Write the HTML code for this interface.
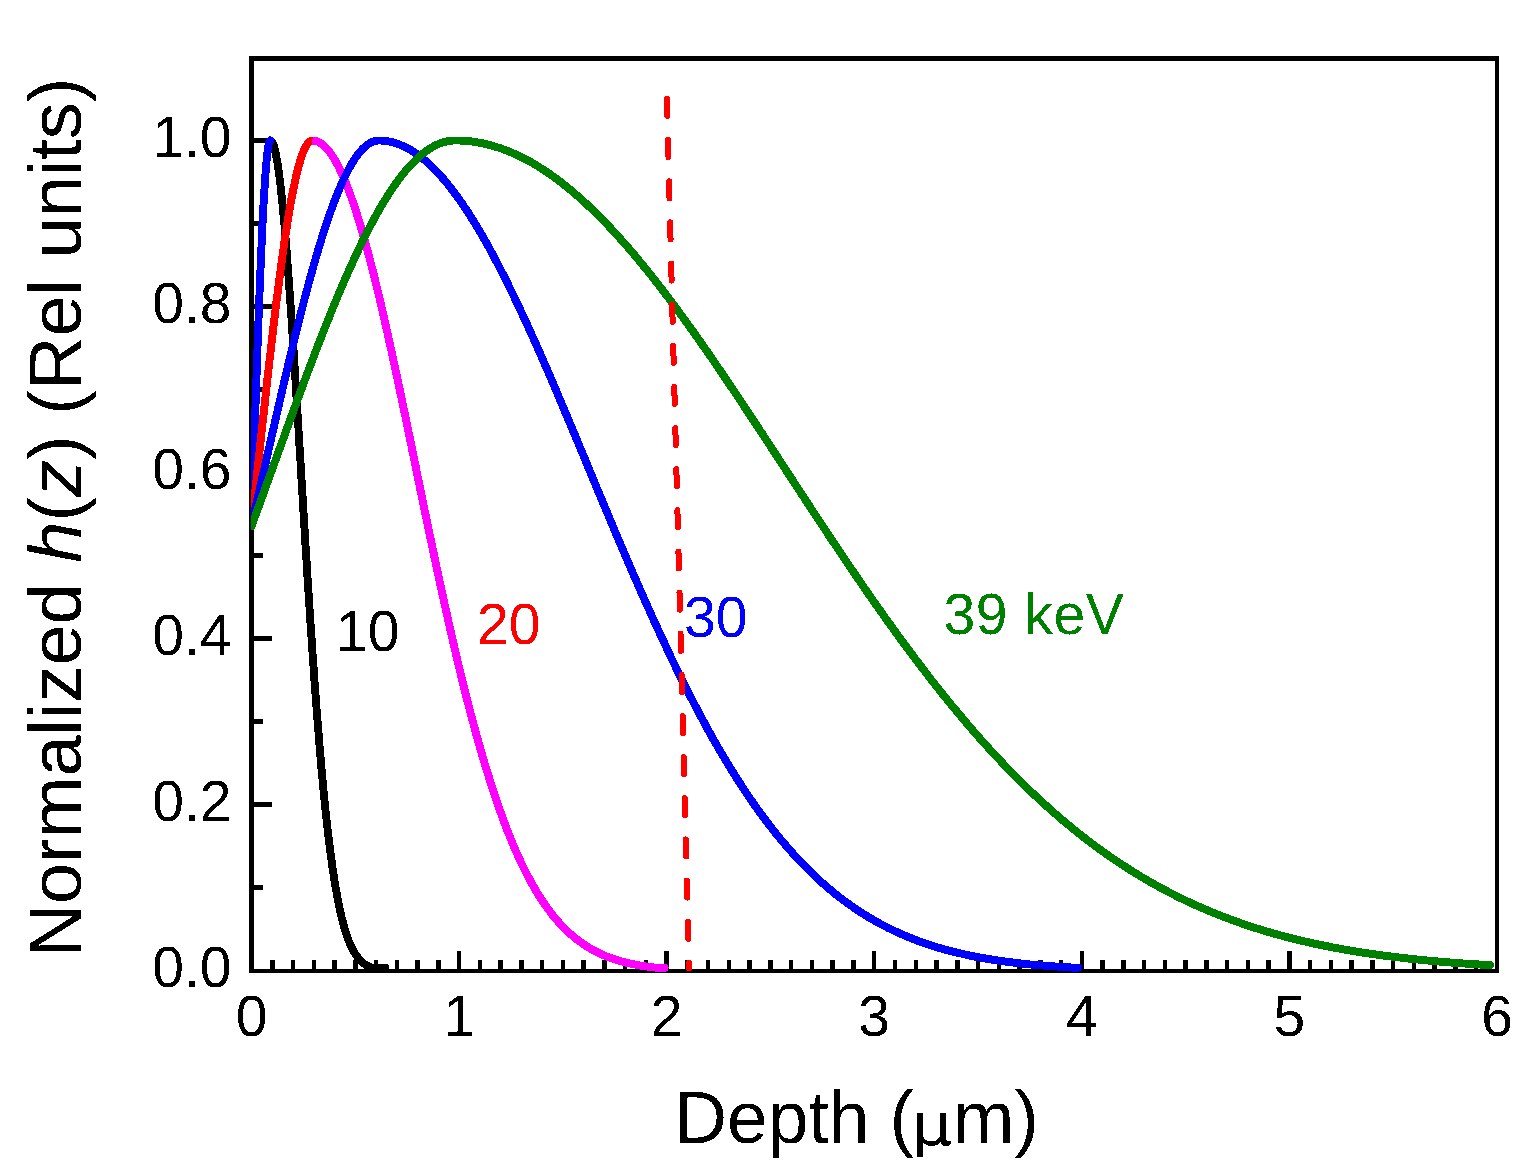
<!DOCTYPE html>
<html><head><meta charset="utf-8"><title>Normalized h(z) vs Depth</title>
<style>html,body{margin:0;padding:0;background:#fff;}body{width:1533px;height:1172px;overflow:hidden;}svg{display:block;}</style>
</head><body>
<svg width="1533" height="1172" viewBox="0 0 1533 1172">
<rect width="1533" height="1172" fill="#fff"/>
<g fill="#000" shape-rendering="crispEdges">
<rect x="249" y="56" width="5" height="917"/>
<rect x="1495" y="56" width="4" height="917"/>
<rect x="249" y="56" width="1250" height="5"/>
<rect x="249" y="969" width="1250" height="4"/>
</g>
<path d="M272.26 969 V960 M293.02 969 V960 M313.77 969 V960 M334.53 969 V960 M355.29 969 V960 M376.05 969 V960 M396.81 969 V960 M417.56 969 V960 M438.32 969 V960 M459.08 969 V951 M479.84 969 V960 M500.60 969 V960 M521.35 969 V960 M542.11 969 V960 M562.87 969 V960 M583.63 969 V960 M604.39 969 V960 M625.14 969 V960 M645.90 969 V960 M666.66 969 V951 M687.42 969 V960 M708.18 969 V960 M728.93 969 V960 M749.69 969 V960 M770.45 969 V960 M791.21 969 V960 M811.97 969 V960 M832.72 969 V960 M853.48 969 V960 M874.24 969 V951 M895.00 969 V960 M915.76 969 V960 M936.51 969 V960 M957.27 969 V960 M978.03 969 V960 M998.79 969 V960 M1019.55 969 V960 M1040.30 969 V960 M1061.06 969 V960 M1081.82 969 V951 M1102.58 969 V960 M1123.34 969 V960 M1144.09 969 V960 M1164.85 969 V960 M1185.61 969 V960 M1206.37 969 V960 M1227.13 969 V960 M1247.88 969 V960 M1268.64 969 V960 M1289.40 969 V951 M1310.16 969 V960 M1330.92 969 V960 M1351.67 969 V960 M1372.43 969 V960 M1393.19 969 V960 M1413.95 969 V960 M1434.71 969 V960 M1455.46 969 V960 M1476.22 969 V960" stroke="#000" stroke-width="4.5" fill="none" shape-rendering="crispEdges"/>
<path d="M254 887.95 H263 M254 804.90 H272 M254 721.85 H263 M254 638.80 H272 M254 555.75 H263 M254 472.70 H272 M254 389.65 H263 M254 306.60 H272 M254 223.55 H263 M254 140.50 H272" stroke="#000" stroke-width="5" fill="none" shape-rendering="crispEdges"/>
<defs><clipPath id="c"><rect x="250.8" y="0" width="1248.2" height="1172"/></clipPath></defs>
<g clip-path="url(#c)" fill="none" stroke-width="7.9" stroke-linejoin="round" stroke-linecap="round" shape-rendering="crispEdges">
<path stroke="#000" d="M270.3 140.5 L272.6 142.9 L273.8 145.8 L274.7 149.1 L275.5 152.4 L276.2 156.1 L276.8 159.2 L277.4 162.6 L278.0 166.3 L278.5 170.3 L279.1 174.5 L279.7 178.9 L280.1 182.1 L280.5 185.3 L280.8 188.6 L281.2 192.1 L281.6 195.6 L282.0 199.3 L282.4 203.1 L282.8 207.0 L283.1 210.9 L283.5 215.0 L283.9 219.2 L284.3 223.4 L284.7 227.8 L285.0 232.2 L285.4 236.8 L285.8 241.4 L286.2 246.1 L286.6 250.9 L287.0 255.8 L287.3 260.7 L287.7 265.7 L288.1 270.8 L288.5 276.0 L288.9 281.3 L289.3 286.6 L289.6 292.0 L290.0 297.4 L290.4 302.9 L290.8 308.5 L291.2 314.1 L291.6 319.8 L291.9 325.5 L292.3 331.3 L292.7 337.1 L293.1 343.0 L293.5 348.9 L293.9 354.9 L294.0 357.9 L294.2 360.9 L294.4 363.9 L294.6 366.9 L294.8 370.0 L295.0 373.0 L295.2 376.1 L295.4 379.1 L295.6 382.2 L295.8 385.3 L296.0 388.3 L296.2 391.4 L296.3 394.5 L296.5 397.6 L296.7 400.7 L296.9 403.8 L297.1 406.9 L297.3 410.1 L297.5 413.2 L297.7 416.3 L297.9 419.5 L298.1 422.6 L298.3 425.7 L298.5 428.9 L298.6 432.0 L298.8 435.2 L299.0 438.3 L299.2 441.5 L299.4 444.6 L299.6 447.8 L299.8 451.0 L300.0 454.1 L300.2 457.3 L300.4 460.5 L300.6 463.6 L300.7 466.8 L300.9 469.9 L301.1 473.1 L301.3 476.3 L301.5 479.4 L301.7 482.6 L301.9 485.8 L302.1 488.9 L302.3 492.1 L302.5 495.2 L302.7 498.4 L302.9 501.5 L303.0 504.7 L303.2 507.8 L303.4 511.0 L303.6 514.1 L303.8 517.3 L304.0 520.4 L304.2 523.5 L304.4 526.6 L304.6 529.8 L304.8 532.9 L305.0 536.0 L305.2 539.1 L305.3 542.2 L305.5 545.3 L305.7 548.4 L305.9 551.5 L306.1 554.5 L306.3 557.6 L306.5 560.7 L306.7 563.7 L306.9 566.8 L307.1 569.8 L307.3 572.9 L307.4 575.9 L307.6 578.9 L307.8 581.9 L308.0 584.9 L308.2 587.9 L308.6 593.9 L309.0 599.9 L309.4 605.8 L309.7 611.6 L310.1 617.4 L310.5 623.2 L310.9 629.0 L311.3 634.7 L311.7 640.3 L312.0 646.0 L312.4 651.5 L312.8 657.1 L313.2 662.5 L313.6 668.0 L314.0 673.3 L314.3 678.7 L314.7 684.0 L315.1 689.2 L315.5 694.4 L315.9 699.5 L316.3 704.6 L316.6 709.6 L317.0 714.6 L317.4 719.5 L317.8 724.3 L318.2 729.1 L318.6 733.9 L318.9 738.6 L319.3 743.2 L319.7 747.8 L320.1 752.3 L320.5 756.8 L320.9 761.2 L321.2 765.5 L321.6 769.8 L322.0 774.0 L322.4 778.2 L322.8 782.3 L323.1 786.4 L323.5 790.4 L323.9 794.3 L324.3 798.2 L324.7 802.0 L325.1 805.7 L325.4 809.5 L325.8 813.1 L326.2 816.7 L326.6 820.2 L327.0 823.7 L327.4 827.1 L327.7 830.5 L328.1 833.8 L328.5 837.0 L328.9 840.2 L329.3 843.3 L329.7 846.4 L330.0 849.4 L330.6 853.9 L331.2 858.2 L331.8 862.4 L332.3 866.4 L332.9 870.4 L333.5 874.2 L334.1 877.9 L334.6 881.6 L335.2 885.1 L335.8 888.5 L336.4 891.7 L336.9 894.9 L337.5 898.0 L338.1 901.0 L338.8 904.8 L339.6 908.5 L340.4 912.0 L341.1 915.3 L341.9 918.5 L342.7 921.5 L343.6 925.1 L344.6 928.5 L345.5 931.6 L346.5 934.6 L347.7 937.9 L348.8 940.9 L350.0 943.7 L351.3 946.7 L352.6 949.4 L354.2 952.2 L355.9 954.9 L357.8 957.5 L359.9 960.0 L362.2 962.2 L364.7 964.1 L367.4 965.8 L370.2 967.2 L373.3 967.7 L376.4 967.7 L379.4 967.7 L382.5 967.7 L385.2 967.7"/>
<path stroke="#00f" d="M251.5 525.0 L251.6 521.3 L251.8 517.6 L251.9 513.9 L252.0 510.2 L252.1 506.5 L252.3 502.7 L252.4 499.0 L252.5 495.3 L252.6 491.5 L252.8 487.8 L252.9 484.1 L253.0 480.3 L253.1 476.6 L253.3 472.8 L253.4 469.1 L253.5 465.4 L253.6 461.6 L253.8 457.9 L253.9 454.1 L254.0 450.4 L254.1 446.6 L254.3 442.9 L254.4 439.2 L254.5 435.4 L254.6 431.7 L254.8 428.0 L254.9 424.3 L255.0 420.6 L255.1 416.8 L255.3 413.1 L255.4 409.4 L255.5 405.8 L255.6 402.1 L255.8 398.4 L255.9 394.7 L256.0 391.1 L256.1 387.4 L256.3 383.8 L256.4 380.2 L256.5 376.5 L256.6 372.9 L256.8 369.3 L256.9 365.7 L257.0 362.2 L257.1 358.6 L257.3 355.1 L257.4 351.5 L257.5 348.0 L257.6 344.5 L257.8 341.0 L257.9 337.5 L258.0 334.1 L258.1 330.6 L258.3 327.2 L258.4 323.8 L258.5 320.4 L258.6 317.1 L258.8 313.7 L258.9 310.4 L259.0 307.1 L259.1 303.8 L259.3 300.5 L259.4 297.2 L259.5 294.0 L259.6 290.8 L259.8 287.6 L259.9 284.5 L260.0 281.3 L260.2 278.2 L260.3 275.1 L260.4 272.1 L260.5 269.0 L260.7 266.0 L260.8 262.3 L261.0 258.6 L261.1 254.9 L261.3 251.3 L261.4 247.8 L261.6 244.3 L261.7 240.8 L261.9 237.4 L262.1 234.0 L262.2 230.7 L262.4 227.4 L262.5 224.2 L262.7 221.0 L262.8 217.9 L263.0 214.8 L263.2 211.8 L263.3 208.3 L263.5 204.8 L263.7 201.4 L263.9 198.1 L264.1 194.9 L264.3 191.7 L264.5 188.7 L264.7 185.2 L264.9 181.9 L265.1 178.6 L265.4 175.5 L265.6 172.2 L265.9 168.9 L266.1 165.9 L266.4 162.6 L266.7 159.6 L267.0 156.5 L267.3 153.3 L267.7 150.3 L268.1 147.3 L268.7 144.2 L269.6 141.3 L270.3 140.5"/>
<path stroke="#f00" d="M251.5 525.1 L251.9 521.4 L252.3 517.7 L252.7 514.0 L253.1 510.3 L253.5 506.6 L253.9 502.9 L254.3 499.1 L254.7 495.4 L255.1 491.7 L255.6 487.9 L256.0 484.2 L256.4 480.4 L256.8 476.7 L257.2 473.0 L257.6 469.2 L258.0 465.5 L258.4 461.7 L258.8 458.0 L259.2 454.2 L259.6 450.5 L260.0 446.8 L260.4 443.0 L260.8 439.3 L261.2 435.5 L261.6 431.8 L262.0 428.1 L262.4 424.4 L262.9 420.7 L263.3 416.9 L263.7 413.2 L264.1 409.5 L264.5 405.9 L264.9 402.2 L265.3 398.5 L265.7 394.8 L266.1 391.2 L266.5 387.5 L266.9 383.9 L267.3 380.2 L267.7 376.6 L268.1 373.0 L268.5 369.4 L268.9 365.8 L269.3 362.3 L269.7 358.7 L270.2 355.1 L270.6 351.6 L271.0 348.1 L271.4 344.6 L271.8 341.1 L272.2 337.6 L272.6 334.2 L273.0 330.7 L273.4 327.3 L273.8 323.9 L274.2 320.5 L274.6 317.1 L275.0 313.8 L275.4 310.4 L275.8 307.1 L276.2 303.8 L276.6 300.6 L277.0 297.3 L277.5 294.1 L277.9 290.9 L278.3 287.7 L278.7 284.5 L279.1 281.4 L279.5 278.3 L279.9 275.2 L280.3 272.1 L280.7 269.1 L281.1 266.1 L281.5 263.1 L282.0 259.4 L282.5 255.7 L283.0 252.1 L283.5 248.5 L284.0 245.0 L284.5 241.5 L285.1 238.1 L285.6 234.7 L286.1 231.4 L286.6 228.1 L287.1 224.9 L287.6 221.7 L288.1 218.6 L288.6 215.5 L289.1 212.4 L289.6 209.5 L290.2 206.0 L290.8 202.6 L291.4 199.2 L292.0 196.0 L292.7 192.8 L293.3 189.7 L293.9 186.7 L294.6 183.3 L295.3 180.0 L296.0 176.9 L296.7 173.8 L297.5 170.5 L298.3 167.4 L299.1 164.4 L300.1 161.2 L301.0 158.3 L302.0 155.3 L303.1 152.3 L304.3 149.4 L305.7 146.5 L307.4 143.9 L309.4 141.7 L312.2 140.5 L312.3 140.5"/>
<path stroke="#f0f" stroke-linecap="butt" d="M312.3 140.5 L315.8 141.0 L318.8 142.1 L321.7 143.9 L324.1 145.8 L326.4 148.2 L328.8 150.9 L331.1 154.1 L332.9 156.7 L334.6 159.6 L336.4 162.7 L338.2 166.0 L339.9 169.5 L341.7 173.3 L343.4 177.2 L345.2 181.4 L346.4 184.3 L347.5 187.3 L348.7 190.3 L349.9 193.5 L351.1 196.7 L352.2 200.1 L353.4 203.5 L354.6 207.0 L355.8 210.6 L356.9 214.2 L358.1 218.0 L359.3 221.8 L360.5 225.7 L361.6 229.7 L362.8 233.7 L364.0 237.8 L365.2 242.0 L366.3 246.3 L367.5 250.6 L368.7 255.0 L369.9 259.4 L371.0 264.0 L372.2 268.5 L373.4 273.2 L374.6 277.9 L375.7 282.6 L376.9 287.5 L378.1 292.3 L379.3 297.2 L380.4 302.2 L381.6 307.2 L382.8 312.3 L383.9 317.4 L385.1 322.6 L386.3 327.8 L387.5 333.0 L388.6 338.3 L389.8 343.6 L391.0 348.9 L392.2 354.3 L393.3 359.7 L394.5 365.2 L395.7 370.7 L396.9 376.2 L398.0 381.7 L399.2 387.2 L400.4 392.8 L401.6 398.4 L402.7 404.0 L403.9 409.6 L405.1 415.3 L406.3 421.0 L407.4 426.6 L408.6 432.3 L409.8 438.0 L411.0 443.7 L412.1 449.4 L413.3 455.1 L414.5 460.8 L415.7 466.5 L416.8 472.3 L418.0 478.0 L419.2 483.7 L420.3 489.4 L421.5 495.1 L422.7 500.8 L423.9 506.5 L425.0 512.2 L426.2 517.8 L427.4 523.5 L428.6 529.1 L429.7 534.7 L430.9 540.3 L432.1 545.9 L433.3 551.5 L434.4 557.1 L435.6 562.6 L436.8 568.1 L438.0 573.6 L439.1 579.1 L440.3 584.5 L441.5 589.9 L442.7 595.3 L443.8 600.6 L445.0 606.0 L446.2 611.3 L447.4 616.5 L448.5 621.8 L449.7 627.0 L450.9 632.1 L452.1 637.3 L453.2 642.4 L454.4 647.4 L455.6 652.4 L456.7 657.4 L457.9 662.4 L459.1 667.3 L460.3 672.1 L461.4 677.0 L462.6 681.8 L463.8 686.5 L465.0 691.2 L466.1 695.9 L467.3 700.5 L468.5 705.1 L469.7 709.6 L470.8 714.1 L472.0 718.5 L473.2 722.9 L474.4 727.3 L475.5 731.6 L476.7 735.9 L477.9 740.1 L479.1 744.2 L480.2 748.4 L481.4 752.4 L482.6 756.5 L483.8 760.4 L484.9 764.4 L486.1 768.3 L487.3 772.1 L488.5 775.9 L489.6 779.6 L490.8 783.3 L492.0 787.0 L493.1 790.6 L494.3 794.1 L495.5 797.7 L496.7 801.1 L497.8 804.5 L499.0 807.9 L500.2 811.2 L501.4 814.5 L502.5 817.7 L503.7 820.9 L504.9 824.0 L506.1 827.1 L507.2 830.1 L508.4 833.1 L509.6 836.0 L510.8 838.9 L511.9 841.8 L513.1 844.6 L514.3 847.4 L516.0 851.4 L517.8 855.4 L519.6 859.2 L521.3 863.0 L523.1 866.7 L524.9 870.2 L526.6 873.7 L528.4 877.1 L530.1 880.4 L531.9 883.6 L533.7 886.7 L535.4 889.7 L537.2 892.7 L538.9 895.5 L540.7 898.3 L542.5 901.0 L544.2 903.6 L546.0 906.1 L547.8 908.6 L550.1 911.7 L552.4 914.8 L554.8 917.7 L557.1 920.4 L559.5 923.1 L561.8 925.6 L564.2 928.1 L566.5 930.4 L568.9 932.6 L571.2 934.7 L573.6 936.7 L575.9 938.6 L578.9 940.9 L581.8 943.0 L584.7 945.0 L587.7 946.9 L590.6 948.7 L593.5 950.3 L596.5 951.9 L599.4 953.3 L602.4 954.6 L605.3 955.9 L608.2 957.1 L611.2 958.2 L614.1 959.2 L617.0 960.1 L620.0 961.0 L622.9 961.8 L625.8 962.6 L628.8 963.3 L631.7 963.9 L635.2 964.6 L638.8 965.3 L642.3 965.9 L645.8 966.4 L649.3 966.9 L652.8 967.3 L656.4 967.7 L659.9 967.7 L663.4 967.7 L664.6 967.7"/>
<circle cx="664.6" cy="967.7" r="3.95" fill="#f0f" stroke="none"/>
<path stroke="#00f" d="M251.5 525.1 L252.3 521.4 L253.2 517.7 L254.0 514.0 L254.9 510.2 L255.7 506.5 L256.6 502.8 L257.4 499.1 L258.3 495.3 L259.1 491.6 L260.0 487.9 L260.8 484.1 L261.7 480.4 L262.5 476.6 L263.4 472.9 L264.2 469.1 L265.1 465.4 L265.9 461.7 L266.8 457.9 L267.6 454.2 L268.5 450.4 L269.3 446.7 L270.2 443.0 L271.0 439.2 L271.9 435.5 L272.7 431.8 L273.6 428.0 L274.4 424.3 L275.3 420.6 L276.1 416.9 L277.0 413.2 L277.8 409.5 L278.7 405.8 L279.5 402.1 L280.4 398.4 L281.2 394.8 L282.1 391.1 L282.9 387.5 L283.8 383.8 L284.6 380.2 L285.5 376.6 L286.3 373.0 L287.2 369.4 L288.0 365.8 L288.9 362.2 L289.7 358.6 L290.6 355.1 L291.4 351.6 L292.3 348.0 L293.1 344.5 L294.0 341.1 L294.8 337.6 L295.7 334.1 L296.5 330.7 L297.4 327.3 L298.2 323.8 L299.1 320.5 L299.9 317.1 L300.8 313.7 L301.6 310.4 L302.5 307.1 L303.3 303.8 L304.2 300.5 L305.0 297.3 L305.9 294.0 L306.7 290.8 L307.6 287.7 L308.4 284.5 L309.3 281.4 L310.1 278.2 L311.0 275.1 L311.8 272.1 L312.7 269.0 L313.5 266.0 L314.4 263.0 L315.2 260.1 L316.1 257.1 L316.9 254.2 L317.8 251.4 L318.8 247.8 L319.9 244.3 L321.0 240.8 L322.0 237.4 L323.1 234.0 L324.1 230.7 L325.2 227.4 L326.3 224.2 L327.3 221.0 L328.4 217.9 L329.5 214.8 L330.5 211.8 L331.6 208.9 L332.6 206.0 L333.7 203.1 L335.0 199.8 L336.3 196.5 L337.5 193.3 L338.8 190.2 L340.1 187.2 L341.4 184.3 L342.6 181.4 L343.9 178.7 L345.4 175.6 L346.9 172.6 L348.4 169.7 L349.9 167.0 L351.6 164.0 L353.3 161.2 L355.0 158.6 L356.9 155.9 L358.8 153.3 L360.9 150.8 L363.0 148.5 L365.4 146.4 L367.9 144.4 L370.7 142.7 L373.4 141.5 L376.4 140.7 L379.0 140.5"/>
<path stroke="#00f" d="M379.0 140.5 L382.5 140.6 L385.9 141.0 L389.4 141.5 L392.9 142.4 L396.4 143.4 L399.9 144.7 L403.4 146.2 L406.9 147.9 L410.4 149.8 L413.9 152.0 L417.4 154.4 L420.9 157.0 L424.4 159.9 L426.7 161.9 L429.1 164.0 L431.4 166.2 L433.7 168.5 L436.1 170.8 L438.4 173.3 L440.7 175.9 L443.1 178.6 L445.4 181.3 L447.7 184.1 L450.1 187.1 L452.4 190.1 L454.7 193.2 L457.0 196.3 L459.4 199.6 L461.7 202.9 L464.0 206.4 L466.4 209.9 L468.7 213.4 L471.0 217.1 L473.4 220.8 L475.7 224.6 L478.0 228.5 L480.4 232.5 L482.7 236.5 L485.0 240.6 L487.4 244.7 L489.7 248.9 L492.0 253.2 L494.3 257.6 L496.7 262.0 L499.0 266.5 L501.3 271.0 L503.7 275.6 L506.0 280.2 L508.3 284.9 L510.7 289.7 L513.0 294.5 L515.3 299.3 L517.7 304.2 L520.0 309.2 L522.3 314.1 L524.6 319.2 L527.0 324.3 L529.3 329.4 L531.6 334.5 L534.0 339.7 L536.3 344.9 L538.6 350.2 L541.0 355.5 L543.3 360.8 L545.6 366.2 L548.0 371.5 L550.3 376.9 L552.6 382.4 L555.0 387.8 L557.3 393.3 L559.6 398.8 L561.9 404.3 L564.3 409.8 L565.4 412.6 L566.6 415.4 L567.8 418.1 L568.9 420.9 L570.1 423.7 L571.3 426.5 L572.4 429.3 L573.6 432.1 L574.8 434.8 L575.9 437.6 L577.1 440.4 L578.3 443.2 L579.4 446.0 L580.6 448.8 L581.8 451.6 L582.9 454.4 L584.1 457.2 L585.3 460.0 L586.4 462.8 L587.6 465.7 L588.8 468.5 L589.9 471.3 L591.1 474.1 L592.3 476.9 L593.4 479.7 L594.6 482.5 L595.7 485.3 L596.9 488.1 L598.1 490.9 L599.2 493.7 L600.4 496.5 L601.6 499.3 L602.7 502.1 L603.9 504.9 L605.1 507.6 L606.2 510.4 L607.4 513.2 L608.6 516.0 L609.7 518.8 L610.9 521.5 L612.1 524.3 L613.2 527.1 L614.4 529.9 L616.7 535.4 L619.1 540.9 L621.4 546.4 L623.7 551.8 L626.1 557.3 L628.4 562.7 L630.7 568.1 L633.0 573.5 L635.4 578.9 L637.7 584.2 L640.0 589.5 L642.4 594.8 L644.7 600.1 L647.0 605.3 L649.4 610.5 L651.7 615.7 L654.0 620.8 L656.4 625.9 L658.7 631.0 L661.0 636.0 L663.4 641.0 L665.7 646.0 L668.0 651.0 L670.3 655.9 L672.7 660.7 L675.0 665.6 L677.3 670.4 L679.7 675.1 L682.0 679.8 L684.3 684.5 L686.7 689.1 L689.0 693.7 L691.3 698.3 L693.7 702.8 L696.0 707.3 L698.3 711.7 L700.6 716.1 L703.0 720.4 L705.3 724.7 L707.6 729.0 L710.0 733.2 L712.3 737.4 L714.6 741.5 L717.0 745.6 L719.3 749.6 L721.6 753.6 L724.0 757.5 L726.3 761.4 L728.6 765.3 L731.0 769.1 L733.3 772.8 L735.6 776.5 L737.9 780.2 L740.3 783.8 L742.6 787.4 L744.9 790.9 L747.3 794.4 L749.6 797.9 L751.9 801.2 L754.3 804.6 L756.6 807.9 L758.9 811.1 L761.3 814.4 L763.6 817.5 L765.9 820.6 L768.3 823.7 L770.6 826.7 L772.9 829.7 L775.2 832.7 L777.6 835.6 L779.9 838.4 L782.2 841.2 L784.6 844.0 L786.9 846.7 L789.2 849.4 L791.6 852.0 L793.9 854.6 L796.2 857.1 L798.6 859.7 L800.9 862.1 L803.2 864.5 L805.5 866.9 L807.9 869.3 L810.2 871.6 L812.5 873.8 L814.9 876.1 L817.2 878.2 L819.5 880.4 L821.9 882.5 L824.2 884.6 L826.5 886.6 L828.9 888.6 L831.2 890.5 L833.5 892.4 L837.0 895.3 L840.5 898.0 L844.0 900.6 L847.5 903.2 L851.0 905.7 L854.5 908.1 L858.0 910.5 L861.5 912.8 L865.0 915.0 L868.5 917.1 L872.0 919.2 L875.5 921.2 L879.0 923.1 L882.5 925.0 L886.0 926.8 L889.5 928.6 L893.0 930.3 L896.5 931.9 L900.0 933.5 L903.5 935.0 L907.0 936.5 L910.5 937.9 L913.9 939.3 L917.4 940.7 L920.9 941.9 L924.4 943.2 L927.9 944.4 L931.4 945.5 L934.9 946.6 L938.4 947.7 L941.9 948.7 L945.4 949.7 L948.9 950.6 L952.4 951.5 L955.9 952.4 L959.4 953.2 L962.9 954.0 L966.4 954.8 L969.9 955.6 L973.4 956.3 L976.9 957.0 L980.4 957.6 L983.9 958.2 L987.4 958.9 L990.9 959.4 L994.4 960.0 L997.9 960.5 L1001.4 961.0 L1004.9 961.5 L1008.4 962.0 L1011.9 962.4 L1015.4 962.8 L1018.8 963.2 L1022.3 963.6 L1025.8 964.0 L1029.3 964.4 L1032.8 964.7 L1036.3 965.0 L1039.8 965.3 L1043.3 965.6 L1046.8 965.9 L1050.3 966.2 L1053.8 966.4 L1057.3 966.6 L1060.8 966.9 L1064.3 967.1 L1067.8 967.3 L1071.3 967.5 L1074.8 967.7 L1078.3 967.7"/>
<path stroke="#008000" d="M251.5 526.1 L252.9 522.4 L254.2 518.7 L255.6 514.9 L256.9 511.2 L258.3 507.5 L259.7 503.8 L261.0 500.0 L262.4 496.3 L263.7 492.6 L265.1 488.8 L266.4 485.1 L267.8 481.3 L269.2 477.6 L270.5 473.8 L271.9 470.1 L273.2 466.3 L274.6 462.6 L276.0 458.8 L277.3 455.1 L278.7 451.3 L280.0 447.6 L281.4 443.8 L282.8 440.1 L284.1 436.3 L285.5 432.6 L286.8 428.9 L288.2 425.1 L289.6 421.4 L290.9 417.7 L292.3 414.0 L293.6 410.3 L295.0 406.6 L296.3 402.9 L297.7 399.2 L299.1 395.5 L300.4 391.9 L301.8 388.2 L303.1 384.6 L304.5 380.9 L305.9 377.3 L307.2 373.7 L308.6 370.1 L309.9 366.5 L311.3 362.9 L312.7 359.3 L314.0 355.8 L315.4 352.2 L316.7 348.7 L318.1 345.2 L319.4 341.7 L320.8 338.2 L322.2 334.7 L323.5 331.3 L324.9 327.8 L326.2 324.4 L327.6 321.0 L329.0 317.7 L330.3 314.3 L331.7 310.9 L333.0 307.6 L334.4 304.3 L335.8 301.0 L337.1 297.8 L338.5 294.5 L339.8 291.3 L341.2 288.1 L342.6 285.0 L343.9 281.8 L345.3 278.7 L346.6 275.6 L348.0 272.5 L349.3 269.5 L350.7 266.4 L352.1 263.5 L353.4 260.5 L354.8 257.5 L356.1 254.6 L357.5 251.7 L358.9 248.9 L360.2 246.0 L361.6 243.2 L362.9 240.5 L364.3 237.7 L365.7 235.0 L367.0 232.3 L368.7 229.0 L370.4 225.8 L372.1 222.6 L373.8 219.4 L375.5 216.3 L377.2 213.3 L378.9 210.3 L380.6 207.3 L382.3 204.5 L384.0 201.6 L385.7 198.9 L387.4 196.1 L389.1 193.5 L390.8 190.9 L392.5 188.3 L394.2 185.9 L396.2 183.0 L398.3 180.2 L400.3 177.4 L402.3 174.8 L404.4 172.3 L406.4 169.8 L408.5 167.5 L410.5 165.2 L412.9 162.7 L415.3 160.3 L417.6 158.1 L420.0 155.9 L422.4 153.9 L424.8 152.1 L427.5 150.1 L430.2 148.3 L432.9 146.7 L435.6 145.3 L438.7 143.9 L441.8 142.8 L444.8 141.9 L447.9 141.2 L450.9 140.7 L454.0 140.5 L455.3 140.5"/>
<path stroke="#008000" d="M455.3 140.5 L458.8 140.5 L462.2 140.7 L465.7 140.9 L469.1 141.2 L472.6 141.6 L476.0 142.1 L479.5 142.7 L482.9 143.4 L486.4 144.2 L489.8 145.1 L493.3 146.0 L496.7 147.1 L500.2 148.2 L503.6 149.4 L507.1 150.7 L510.5 152.1 L514.0 153.6 L517.4 155.2 L520.9 156.8 L524.3 158.6 L527.8 160.4 L531.2 162.3 L534.7 164.3 L538.1 166.4 L541.6 168.6 L545.0 170.8 L548.5 173.1 L551.9 175.6 L555.4 178.0 L558.8 180.6 L562.3 183.3 L565.7 186.0 L569.1 188.8 L572.6 191.7 L576.0 194.6 L579.5 197.6 L582.9 200.7 L586.4 203.9 L589.8 207.2 L593.3 210.5 L596.7 213.9 L600.2 217.3 L603.6 220.8 L607.1 224.4 L610.5 228.0 L614.0 231.8 L617.4 235.5 L620.9 239.4 L624.3 243.3 L627.8 247.2 L631.2 251.2 L634.7 255.3 L638.1 259.4 L641.6 263.6 L645.0 267.8 L648.5 272.1 L651.9 276.4 L655.4 280.8 L658.8 285.2 L662.3 289.7 L665.7 294.2 L669.2 298.8 L672.6 303.4 L676.1 308.0 L679.5 312.7 L683.0 317.5 L686.4 322.2 L689.8 327.0 L693.3 331.8 L696.7 336.7 L700.2 341.6 L701.9 344.1 L703.6 346.5 L705.4 349.0 L707.1 351.5 L708.8 354.0 L710.5 356.5 L712.3 359.0 L714.0 361.5 L715.7 364.0 L717.4 366.6 L719.2 369.1 L720.9 371.6 L722.6 374.2 L724.3 376.7 L726.1 379.3 L727.8 381.8 L729.5 384.4 L731.2 387.0 L733.0 389.5 L734.7 392.1 L736.4 394.7 L738.1 397.3 L739.9 399.9 L741.6 402.5 L743.3 405.0 L745.0 407.7 L746.7 410.3 L748.5 412.9 L750.2 415.5 L751.9 418.1 L753.6 420.7 L755.4 423.3 L757.1 425.9 L758.8 428.6 L760.5 431.2 L762.3 433.8 L764.0 436.5 L765.7 439.1 L767.4 441.7 L769.2 444.4 L770.9 447.0 L772.6 449.6 L774.3 452.3 L776.1 454.9 L777.8 457.6 L779.5 460.2 L781.2 462.8 L783.0 465.5 L784.7 468.1 L786.4 470.8 L788.1 473.4 L789.9 476.0 L791.6 478.7 L793.3 481.3 L795.0 484.0 L796.8 486.6 L798.5 489.2 L800.2 491.9 L801.9 494.5 L803.7 497.1 L805.4 499.8 L807.1 502.4 L808.8 505.0 L810.5 507.7 L812.3 510.3 L814.0 512.9 L815.7 515.5 L817.4 518.1 L819.2 520.8 L820.9 523.4 L822.6 526.0 L824.3 528.6 L826.1 531.2 L827.8 533.8 L829.5 536.4 L831.2 539.0 L833.0 541.6 L834.7 544.1 L836.4 546.7 L838.1 549.3 L839.9 551.9 L841.6 554.4 L843.3 557.0 L845.0 559.6 L846.8 562.1 L848.5 564.7 L850.2 567.2 L851.9 569.8 L853.7 572.3 L855.4 574.8 L857.1 577.4 L858.8 579.9 L860.6 582.4 L862.3 584.9 L864.0 587.4 L865.7 589.9 L867.5 592.4 L869.2 594.9 L870.9 597.4 L872.6 599.8 L874.3 602.3 L876.1 604.8 L879.5 609.7 L883.0 614.5 L886.4 619.4 L889.9 624.2 L893.3 629.0 L896.8 633.8 L900.2 638.5 L903.7 643.2 L907.1 647.9 L910.6 652.5 L914.0 657.1 L917.5 661.7 L920.9 666.2 L924.4 670.7 L927.8 675.2 L931.2 679.7 L934.7 684.1 L938.1 688.4 L941.6 692.8 L945.0 697.1 L948.5 701.3 L951.9 705.6 L955.4 709.7 L958.8 713.9 L962.3 718.0 L965.7 722.1 L969.2 726.1 L972.6 730.1 L976.1 734.1 L979.5 738.0 L983.0 741.9 L986.4 745.7 L989.9 749.5 L993.3 753.2 L996.8 757.0 L1000.2 760.6 L1003.7 764.3 L1007.1 767.9 L1010.6 771.4 L1014.0 774.9 L1017.5 778.4 L1020.9 781.8 L1024.4 785.2 L1027.8 788.6 L1031.3 791.9 L1034.7 795.2 L1038.2 798.4 L1041.6 801.6 L1045.1 804.7 L1048.5 807.8 L1052.0 810.9 L1055.4 813.9 L1058.8 816.9 L1062.3 819.9 L1065.7 822.8 L1069.2 825.6 L1072.6 828.5 L1076.1 831.3 L1079.5 834.0 L1083.0 836.7 L1086.4 839.4 L1089.9 842.0 L1093.3 844.6 L1096.8 847.2 L1100.2 849.7 L1103.7 852.1 L1107.1 854.6 L1110.6 857.0 L1114.0 859.4 L1117.5 861.7 L1120.9 864.0 L1124.4 866.2 L1127.8 868.4 L1131.3 870.6 L1134.7 872.8 L1138.2 874.9 L1141.6 877.0 L1145.1 879.0 L1148.5 881.0 L1152.0 883.0 L1155.4 884.9 L1158.9 886.8 L1162.3 888.7 L1165.8 890.5 L1169.2 892.3 L1172.7 894.1 L1176.1 895.9 L1179.5 897.6 L1183.0 899.3 L1186.4 900.9 L1189.9 902.5 L1193.3 904.1 L1196.8 905.7 L1200.2 907.2 L1203.7 908.7 L1207.1 910.2 L1210.6 911.6 L1214.0 913.0 L1217.5 914.4 L1220.9 915.8 L1224.4 917.1 L1227.8 918.4 L1231.3 919.7 L1234.7 921.0 L1238.2 922.2 L1241.6 923.4 L1245.1 924.6 L1248.5 925.8 L1252.0 926.9 L1255.4 928.0 L1258.9 929.1 L1262.3 930.1 L1265.8 931.2 L1269.2 932.2 L1272.7 933.2 L1276.1 934.2 L1279.6 935.1 L1283.0 936.1 L1286.5 937.0 L1289.9 937.9 L1293.4 938.7 L1296.8 939.6 L1300.2 940.4 L1303.7 941.2 L1307.1 942.0 L1310.6 942.8 L1314.0 943.6 L1317.5 944.3 L1320.9 945.0 L1324.4 945.7 L1327.8 946.4 L1331.3 947.1 L1334.7 947.8 L1338.2 948.4 L1341.6 949.0 L1345.1 949.7 L1348.5 950.3 L1352.0 950.8 L1355.4 951.4 L1358.9 952.0 L1362.3 952.5 L1365.8 953.0 L1369.2 953.6 L1372.7 954.1 L1376.1 954.5 L1379.6 955.0 L1383.0 955.5 L1386.5 955.9 L1389.9 956.4 L1393.4 956.8 L1396.8 957.2 L1400.3 957.6 L1403.7 958.0 L1407.2 958.4 L1410.6 958.8 L1414.1 959.2 L1417.5 959.5 L1421.0 959.9 L1424.4 960.2 L1427.8 960.5 L1431.3 960.9 L1434.7 961.2 L1438.2 961.5 L1441.6 961.8 L1445.1 962.1 L1448.5 962.3 L1452.0 962.6 L1455.4 962.9 L1458.9 963.1 L1462.3 963.4 L1465.8 963.6 L1469.2 963.8 L1472.7 964.1 L1476.1 964.3 L1479.6 964.5 L1483.0 964.7 L1486.5 964.9 L1489.9 965.1"/>
</g>
<path d="M667 99 L689 968" stroke="#f00" stroke-width="6" stroke-dasharray="17 24.15" stroke-linecap="round" fill="none" shape-rendering="crispEdges"/>
<defs><filter id="tf" filterUnits="userSpaceOnUse" x="0" y="0" width="1533" height="1172"><feComponentTransfer><feFuncA type="discrete" tableValues="0 1"/></feComponentTransfer></filter></defs>
<g filter="url(#tf)">
<g font-family="'Liberation Sans', sans-serif" font-size="57" fill="#000">
<text x="231.5" y="987.3" text-anchor="end">0.0</text>
<text x="231.5" y="821.2" text-anchor="end">0.2</text>
<text x="231.5" y="655.1" text-anchor="end">0.4</text>
<text x="231.5" y="489.0" text-anchor="end">0.6</text>
<text x="231.5" y="322.9" text-anchor="end">0.8</text>
<text x="231.5" y="156.8" text-anchor="end">1.0</text>
<text x="251.5" y="1035.5" text-anchor="middle">0</text>
<text x="459.1" y="1035.5" text-anchor="middle">1</text>
<text x="666.7" y="1035.5" text-anchor="middle">2</text>
<text x="874.2" y="1035.5" text-anchor="middle">3</text>
<text x="1081.8" y="1035.5" text-anchor="middle">4</text>
<text x="1289.4" y="1035.5" text-anchor="middle">5</text>
<text x="1497.0" y="1035.5" text-anchor="middle">6</text>
</g>
<text x="336" y="651" font-family="'Liberation Sans', sans-serif" font-size="57" fill="#000">10</text>
<text x="477" y="643.5" font-family="'Liberation Sans', sans-serif" font-size="57" fill="#f00">20</text>
<text x="684" y="637.3" font-family="'Liberation Sans', sans-serif" font-size="57" fill="#00f">30</text>
<text x="943.6" y="633.75" font-family="'Liberation Sans', sans-serif" font-size="57" fill="#008000" letter-spacing="0.55">39 keV</text>
<g font-family="'Liberation Sans', sans-serif" fill="#000" font-size="74">
<text transform="translate(674.3 1143) scale(0.988 1)">Depth</text>
<text x="889.411" y="1143">(</text>
<text transform="translate(911.579 1144.5) scale(1.1 1)" font-family="'DejaVu Sans', sans-serif" font-size="58">μ</text>
<text x="952.686" y="1143">m)</text>
</g>
<text transform="translate(81 957.5) rotate(-90) scale(1 1)" x="0" y="0" font-family="'Liberation Sans', sans-serif" font-size="74" fill="#000">Normalized <tspan font-style="italic">h</tspan>(<tspan font-style="italic">z</tspan>) (Rel units)</text>
</g>
</svg>
</body></html>
